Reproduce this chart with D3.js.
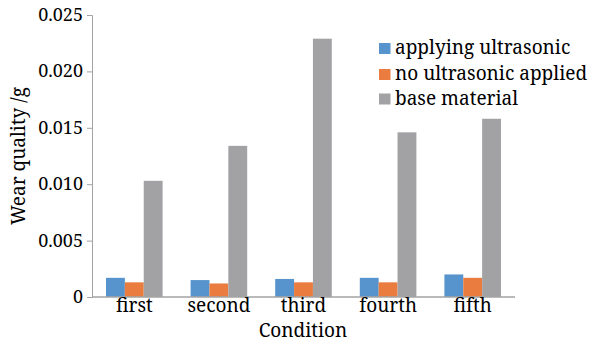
<!DOCTYPE html>
<html><head><meta charset="utf-8">
<script src="https://cdn.jsdelivr.net/npm/d3@7"></script>
<style>body{margin:0;background:#fff}svg{display:block}</style>
</head><body><svg id="c" width="589" height="343"></svg>
<script>
const categories = ["first","second","third","fourth","fifth"];
const seriesNames = ["applying ultrasonic","no ultrasonic applied","base material"];
const applyingUltrasonic = [0.0017,0.0015,0.0016,0.0017,0.0020];
const noUltrasonic = [0.0013,0.0012,0.0013,0.0013,0.0017];
const baseMaterial = [0.0103,0.0134,0.0229,0.0146,0.0158];
const yTicks = [0,0.005,0.010,0.015,0.020,0.025];
const yTickLabels = ["0","0.005","0.010","0.015","0.020","0.025"];
const colors = ["#5793CC","#E97C3E","#A2A2A5"];
const series = [applyingUltrasonic, noUltrasonic, baseMaterial];

const FONT = '"Noto Serif", serif';
const svg = d3.select("#c");
const m = {l:92, r:74, t:15, b:46};
const W = 589, H = 343;
const x = d3.scaleBand().domain(categories).range([m.l, W-m.r]).paddingInner(0.331).paddingOuter(0.1655);
const xs = d3.scaleBand().domain(d3.range(3)).range([0, x.bandwidth()]);
const y = d3.scaleLinear().domain([0,0.025]).range([H-m.b, m.t]);
const axisColor = "#a3a3a3";

function txt(sel, size){ return sel.attr("fill","#000").style("font-family",FONT).style("font-size",size+"px"); }

// bars
categories.forEach((c,i)=>{
  series.forEach((s,j)=>{
    svg.append("rect").attr("x",x(c)+xs(j)).attr("width",xs.bandwidth())
      .attr("y",y(s[i])).attr("height",y(0)-y(s[i])).attr("fill",colors[j]);
  });
});

// y axis
const ya = svg.append("g").attr("transform",`translate(${m.l},0)`)
  .call(d3.axisLeft(y).tickValues(yTicks).tickFormat((d,i)=>yTickLabels[i]).tickSize(5).tickPadding(4));
ya.attr("font-family",null).attr("font-size",null);
ya.select(".domain").attr("stroke",axisColor);
ya.selectAll(".tick line").attr("stroke",axisColor);
txt(ya.selectAll(".tick text"),18).attr("dy","0.3em");

// x axis
const xa = svg.append("g").attr("transform",`translate(0,${y(0)})`)
  .call(d3.axisBottom(x).tickSize(0).tickPadding(0));
xa.attr("font-family",null).attr("font-size",null);
xa.select(".domain").attr("stroke",axisColor).attr("stroke-width",1.5).attr("d",`M${m.l},0H${W-m.r}`);
txt(xa.selectAll(".tick text"),19).attr("y",15).attr("dy",0);

// axis titles
txt(svg.append("text"),19).attr("x",303).attr("y",337).attr("text-anchor","middle").text("Condition");
txt(svg.append("text"),19).attr("transform",`translate(25,156) rotate(-90)`).attr("text-anchor","middle").text("Wear quality /g");

// legend
const legendY = [48.5, 74.5, 99];
seriesNames.forEach((n,i)=>{
  const g = svg.append("g").attr("transform",`translate(379,${legendY[i]})`);
  g.append("rect").attr("x",0).attr("y",-5.5).attr("width",11.5).attr("height",11).attr("fill",colors[i]);
  txt(g.append("text"),19).attr("x",16).attr("y",5.5).text(n);
});
</script></body></html>
